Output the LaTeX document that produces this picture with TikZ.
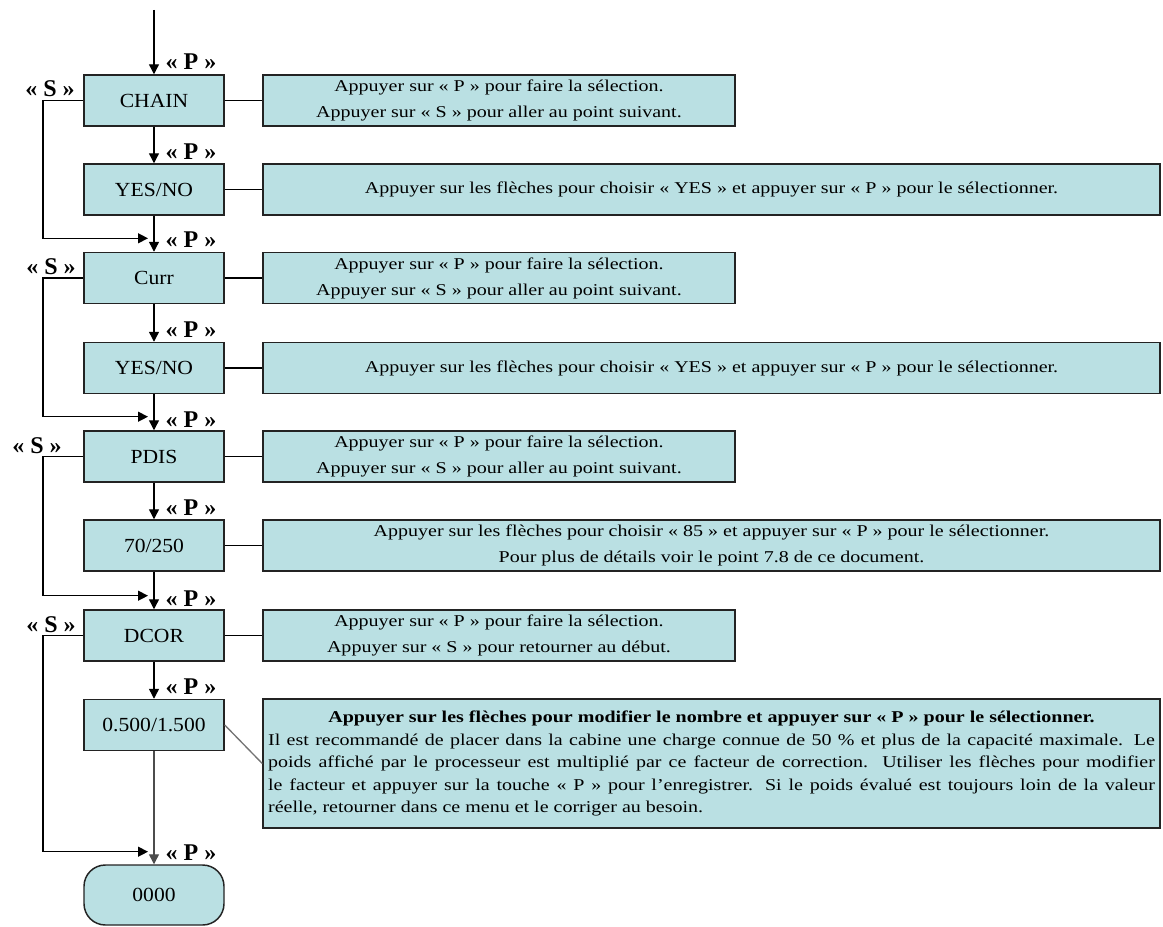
\documentclass[tikz,border=0pt]{standalone}
\usepackage{fontspec}
\setmainfont{Liberation Serif}
\newfontfamily\descfont[FakeStretch=1.21]{Liberation Serif}
\newfontfamily\labfont[FakeStretch=1.08]{Liberation Serif}
\usetikzlibrary{arrows.meta}
\definecolor{boxfill}{RGB}{186,224,227}
\definecolor{edge}{RGB}{35,35,35}
\begin{document}
\begin{tikzpicture}[x=0.75pt,y=-0.75pt,
  lbox/.style={draw=edge, line width=1.1pt, fill=boxfill, minimum width=105pt, minimum height=38.25pt, inner sep=0pt, font=\labfont\fontsize{15}{16}\selectfont},
  rbox/.style={draw=edge, line width=1.1pt, fill=boxfill, minimum height=38.25pt, inner sep=0pt, align=center, font=\descfont\fontsize{12.4}{19.5}\selectfont},
  shortbox/.style={rbox, minimum width=354pt},
  longbox/.style={rbox, minimum width=672.75pt},
  key/.style={font=\bfseries\fontsize{18}{19}\selectfont, inner sep=0pt},
  flow/.style={draw=black, line width=1pt, -{Triangle[length=7.5pt,width=7.5pt]}},
  link/.style={draw=black, line width=1pt}]
\useasboundingbox (0,0) rectangle (1163,927);

% left column
\node[lbox] (chain) at (154,100.5) {CHAIN};
\node[lbox] (yn1) at (154,189.5) {YES/NO};
\node[lbox] (curr) at (154,278) {Curr};
\node[lbox] (yn2) at (154,368) {YES/NO};
\node[lbox] (pdis) at (154,456.5) {PDIS};
\node[lbox] (pv) at (154,545.5) {70/250};
\node[lbox] (dcor) at (154,635.5) {DCOR};
\node[lbox] (fac) at (154,725) {0.500/1.500};
\node[lbox, rounded corners=16pt, minimum height=45pt] (zero) at (154,895) {0000};

% descriptions
\node[shortbox] (dchain) at (499,100.5) {Appuyer sur « P » pour faire la sélection.\\Appuyer sur « S » pour aller au point suivant.};
\node[longbox] (dyn1) at (711.5,189.5) {Appuyer sur les flèches pour choisir « YES » et appuyer sur « P » pour le sélectionner.};
\node[shortbox] (dcurr) at (499,278) {Appuyer sur « P » pour faire la sélection.\\Appuyer sur « S » pour aller au point suivant.};
\node[longbox] (dyn2) at (711.5,368) {Appuyer sur les flèches pour choisir « YES » et appuyer sur « P » pour le sélectionner.};
\node[shortbox] (dpdis) at (499,456.5) {Appuyer sur « P » pour faire la sélection.\\Appuyer sur « S » pour aller au point suivant.};
\node[longbox] (dpv) at (711.5,545.5) {Appuyer sur les flèches pour choisir « 85 » et appuyer sur « P » pour le sélectionner.\\Pour plus de détails voir le point 7.8 de ce document.};
\node[shortbox] (ddcor) at (499,635.5) {Appuyer sur « P » pour faire la sélection.\\Appuyer sur « S » pour retourner au début.};
\node[longbox, minimum height=96.75pt, font=\descfont\fontsize{12.4}{16.9}\selectfont] (dfac) at (711.5,763.5) {\parbox{665pt}{\centering
  {\bfseries Appuyer sur les flèches pour modifier le nombre et appuyer sur « P » pour le sélectionner.}\\
  \makebox[665pt][s]{Il est recommandé de placer dans la cabine une charge connue de 50 \% et plus de la capacité maximale. Le}\\
  \makebox[665pt][s]{poids affiché par le processeur est multiplié par ce facteur de correction.\ \ Utiliser les flèches pour modifier}\\
  \makebox[665pt][s]{le facteur et appuyer sur la touche « P » pour l’enregistrer. Si le poids évalué est toujours loin de la valeur}\\
  \makebox[665pt][l]{réelle, retourner dans ce menu et le corriger au besoin.}}};

% key labels
\node[key] (p1) at (191,62) {« P »};
\node[key] (p2) at (191,151.5) {« P »};
\node[key] (p3) at (191,240) {« P »};
\node[key] (p4) at (191,330) {« P »};
\node[key] (p5) at (191,419.5) {« P »};
\node[key] (p6) at (191,508) {« P »};
\node[key] (p7) at (191,598.5) {« P »};
\node[key] (p8) at (191,687) {« P »};
\node[key] (p9) at (191,852.5) {« P »};
\node[key] (s1) at (50,89) {« S »};
\node[key] (s2) at (51,266.5) {« S »};
\node[key] (s3) at (37,446) {« S »};
\node[key] (s4) at (51,624.5) {« S »};

% main flow
\coordinate (start) at (154,10);
\draw[flow] (start) -- (chain.north);
\draw[flow] (chain.south) -- (yn1.north);
\draw[flow] (yn1.south) -- (curr.north);
\draw[flow] (curr.south) -- (yn2.north);
\draw[flow] (yn2.south) -- (pdis.north);
\draw[flow] (pdis.south) -- (pv.north);
\draw[flow] (pv.south) -- (dcor.north);
\draw[flow] (dcor.south) -- (fac.north);
\draw[flow, draw=black!70] (fac.south) -- (zero.north);

% skip loops
\coordinate (f1) at (148,238.3);
\coordinate (f2) at (148,416.7);
\coordinate (f3) at (148,595.7);
\coordinate (f4) at (148,851.7);
\draw[flow] (chain.west) -- ++(-40.3,0) |- (f1);
\draw[flow] (curr.west) -- ++(-40.3,0) |- (f2);
\draw[flow] (pdis.west) -- ++(-40.3,0) |- (f3);
\draw[flow] (dcor.west) -- ++(-40.3,0) |- (f4);

% links to descriptions
\draw[link] (chain.east) -- (dchain.west);
\draw[link] (yn1.east) -- (dyn1.west);
\draw[link] (curr.east) -- (dcurr.west);
\draw[link] (yn2.east) -- (dyn2.west);
\draw[link] (pdis.east) -- (dpdis.west);
\draw[link] (pv.east) -- (dpv.west);
\draw[link] (dcor.east) -- (ddcor.west);
\draw[draw=black!55, line width=1pt] (fac.east) -- (dfac.west);
\end{tikzpicture}
\end{document}
